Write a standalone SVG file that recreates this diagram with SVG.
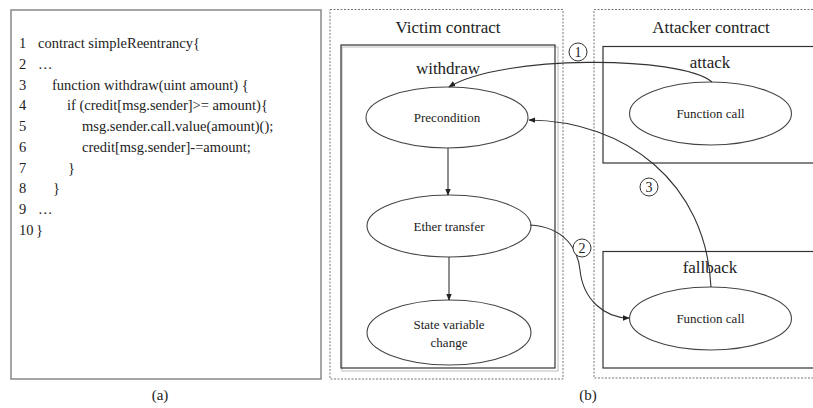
<svg xmlns="http://www.w3.org/2000/svg" width="813" height="408" viewBox="0 0 813 408" font-family="'Liberation Serif', 'DejaVu Serif', serif">
  <style>
    text { font-family: "Liberation Serif", "DejaVu Serif", "Times New Roman", serif; fill: #222; }
    .code { font-size: 14.5px; }
    .title { font-size: 17px; text-anchor: middle; }
    .node { font-size: 13px; text-anchor: middle; }
    .num { font-size: 14px; text-anchor: middle; }
    .cap { font-size: 15px; text-anchor: middle; }
    .frame { fill: none; stroke: #888; stroke-width: 1.5; }
    .dashed { fill: none; stroke: #777; stroke-width: 1; stroke-dasharray: 2 1.5; }
    .func { fill: none; stroke: #333; stroke-width: 1.2; }
    .ell { fill: #fff; stroke: #444; stroke-width: 1.1; }
    .edge { fill: none; stroke: #333; stroke-width: 1.1; }
    .badge { fill: #fff; stroke: #333; stroke-width: 1; }
  </style>
  <defs>
    <marker id="arrow" viewBox="0 0 10 10" refX="9" refY="5" markerWidth="7" markerHeight="7" orient="auto" markerUnits="userSpaceOnUse">
      <path d="M0,1 L10,5 L0,9 Z" fill="#222"/>
    </marker>
  </defs>

  <rect width="813" height="408" fill="#fff"/>

  <!-- (a) source listing -->
  <g id="code-listing">
    <rect class="frame" x="11" y="10" width="310" height="369"/>
    <text class="code" x="19" y="48">1</text>
    <text class="code" x="38" y="48">contract simpleReentrancy{</text>
    <text class="code" x="19" y="69">2</text>
    <text class="code" x="38" y="69">…</text>
    <text class="code" x="19" y="90">3</text>
    <text class="code" x="52" y="90">function withdraw(uint amount) {</text>
    <text class="code" x="19" y="110">4</text>
    <text class="code" x="67" y="110">if (credit[msg.sender]&gt;=  amount){</text>
    <text class="code" x="19" y="131">5</text>
    <text class="code" x="82" y="131">msg.sender.call.value(amount)();</text>
    <text class="code" x="19" y="152">6</text>
    <text class="code" x="82" y="152">credit[msg.sender]-=amount;</text>
    <text class="code" x="19" y="173">7</text>
    <text class="code" x="68" y="173">}</text>
    <text class="code" x="19" y="193">8</text>
    <text class="code" x="53" y="193">}</text>
    <text class="code" x="19" y="214">9</text>
    <text class="code" x="38" y="214">…</text>
    <text class="code" x="19" y="235">10</text>
    <text class="code" x="36" y="235">}</text>
  </g>
  <text class="cap" x="160" y="400">(a)</text>

  <!-- (b) victim contract -->
  <g id="victim-contract">
    <rect class="dashed" x="330" y="9.5" width="233" height="369.5"/>
    <text class="title" x="448" y="33">Victim contract</text>
  </g>
  <g id="withdraw">
    <rect x="342" y="47" width="216" height="324" fill="none" stroke="#bbb" stroke-width="1"/>
    <rect class="func" x="341" y="45" width="214" height="323"/>
    <text class="title" x="448" y="74">withdraw</text>
  </g>
  <g id="precondition">
    <ellipse class="ell" cx="447" cy="117.5" rx="81" ry="30.5"/>
    <text class="node" x="447" y="122">Precondition</text>
  </g>
  <g id="ether-transfer">
    <ellipse class="ell" cx="449" cy="226" rx="82" ry="31"/>
    <text class="node" x="449" y="231">Ether transfer</text>
  </g>
  <g id="state-change">
    <ellipse class="ell" cx="449" cy="332.5" rx="82" ry="32.5"/>
    <text class="node" x="449" y="329">State variable</text>
    <text class="node" x="449" y="347">change</text>
  </g>

  <!-- (b) attacker contract -->
  <g id="attacker-contract">
    <rect class="dashed" x="594" y="9.5" width="230" height="368.5"/>
    <text class="title" x="711" y="33">Attacker contract</text>
  </g>
  <g id="attack">
    <rect class="func" x="603" y="46.5" width="220" height="116.5"/>
    <text class="title" x="710" y="68">attack</text>
  </g>
  <g id="attack-call">
    <ellipse class="ell" cx="710.5" cy="113.5" rx="81" ry="31.5"/>
    <text class="node" x="710.5" y="118">Function call</text>
  </g>
  <g id="fallback">
    <rect class="func" x="603" y="251.5" width="220" height="116.5"/>
    <text class="title" x="710" y="273">fallback</text>
  </g>
  <g id="fallback-call">
    <ellipse class="ell" cx="710.5" cy="318.5" rx="81" ry="31.5"/>
    <text class="node" x="710.5" y="323">Function call</text>
  </g>
  <text class="cap" x="588" y="400">(b)</text>

  <!-- connectors -->
  <g id="connectors">
    <line class="edge" x1="448" y1="148" x2="448" y2="195" marker-end="url(#arrow)"/>
    <line class="edge" x1="449" y1="257" x2="449" y2="300" marker-end="url(#arrow)"/>
    <!-- 1: attack -> precondition -->
    <path class="edge" d="M712,82 C680,55 500,55 449,87" marker-end="url(#arrow)"/>
    <!-- 2: ether transfer -> fallback -->
    <path class="edge" d="M530,225 C565,227 578,250 580,270 C583,300 605,318 629,318" marker-end="url(#arrow)"/>
    <!-- 3: fallback -> precondition -->
    <path class="edge" d="M711,287 C706,182 625,121 529,120" marker-end="url(#arrow)"/>
    <g id="step-1">
      <circle class="badge" cx="578" cy="52" r="9"/>
      <text class="num" x="578" y="57">1</text>
    </g>
    <g id="step-2">
      <circle class="badge" cx="582" cy="248" r="9"/>
      <text class="num" x="582" y="253">2</text>
    </g>
    <g id="step-3">
      <circle class="badge" cx="649" cy="187" r="9"/>
      <text class="num" x="649" y="192">3</text>
    </g>
  </g>
</svg>
